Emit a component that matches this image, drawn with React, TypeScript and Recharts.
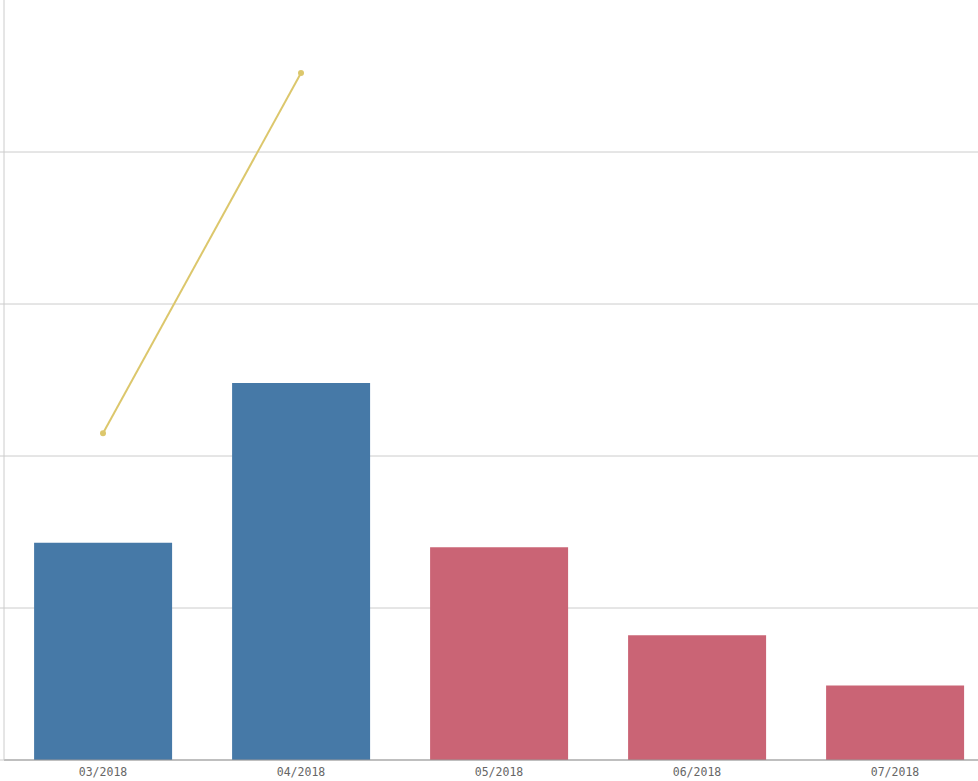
import React from 'react';
import { ComposedChart, Bar, Line, XAxis, YAxis, CartesianGrid, Cell } from 'recharts';

const months = ['03/2018', '04/2018', '05/2018', '06/2018', '07/2018'];
const barValues = [1.43, 2.48, 1.4, 0.82, 0.49];
const lineValues: (number | null)[] = [2.15, 4.52, null, null, null];
const barColors = ['#4679a7', '#4679a7', '#ca6475', '#ca6475', '#ca6475'];

const data = months.map((month, i) => ({
  month,
  bar: barValues[i],
  line: lineValues[i],
}));

const EmptyTick = () => <g />;

// skip the line on the top edge of the plot, the reference has none there
const GridLine = (props: any) => {
  const { x1, x2, y1, y2, y, index } = props;
  if (y1 <= y + 0.5) return <g key={`gl-${index}`} />;
  return <line key={`gl-${index}`} x1={x1} x2={x2} y1={y1} y2={y2} stroke="#cccccc" strokeWidth={1} />;
};

const App: React.FC = () => {
  return (
    <div
      style={{
        position: 'fixed',
        left: 0,
        top: 0,
        width: 978,
        height: 781,
        overflow: 'hidden',
        background: '#fff',
      }}
    >
      <ComposedChart
        width={994}
        height={781}
        data={data}
        margin={{ top: 0, right: 0, left: 0, bottom: 0 }}
        barCategoryGap="15.2%"
      >
        <CartesianGrid vertical={false} horizontal={GridLine} stroke="#cccccc" />
        <XAxis
          dataKey="month"
          height={21}
          tickLine={false}
          axisLine={{ stroke: '#999999' }}
          tick={{ fill: '#666666', fontSize: 11.5, fontFamily: 'DejaVu Sans Mono' }}
          interval={0}
        />
        <YAxis
          width={4}
          domain={[0, 5]}
          ticks={[0, 1, 2, 3, 4]}
          tick={EmptyTick}
          tickSize={4}
          tickLine={{ stroke: '#cccccc' }}
          axisLine={{ stroke: '#cccccc' }}
        />
        <Bar dataKey="bar" isAnimationActive={false}>
          {data.map((entry, index) => (
            <Cell key={`cell-${index}`} fill={barColors[index]} />
          ))}
        </Bar>
        <Line
          dataKey="line"
          stroke="#dcc76c"
          strokeWidth={2}
          dot={{ r: 3, fill: '#dcc76c', stroke: '#dcc76c', strokeWidth: 0 }}
          activeDot={false}
          isAnimationActive={false}
          connectNulls={false}
        />
      </ComposedChart>
    </div>
  );
};

export default App;
